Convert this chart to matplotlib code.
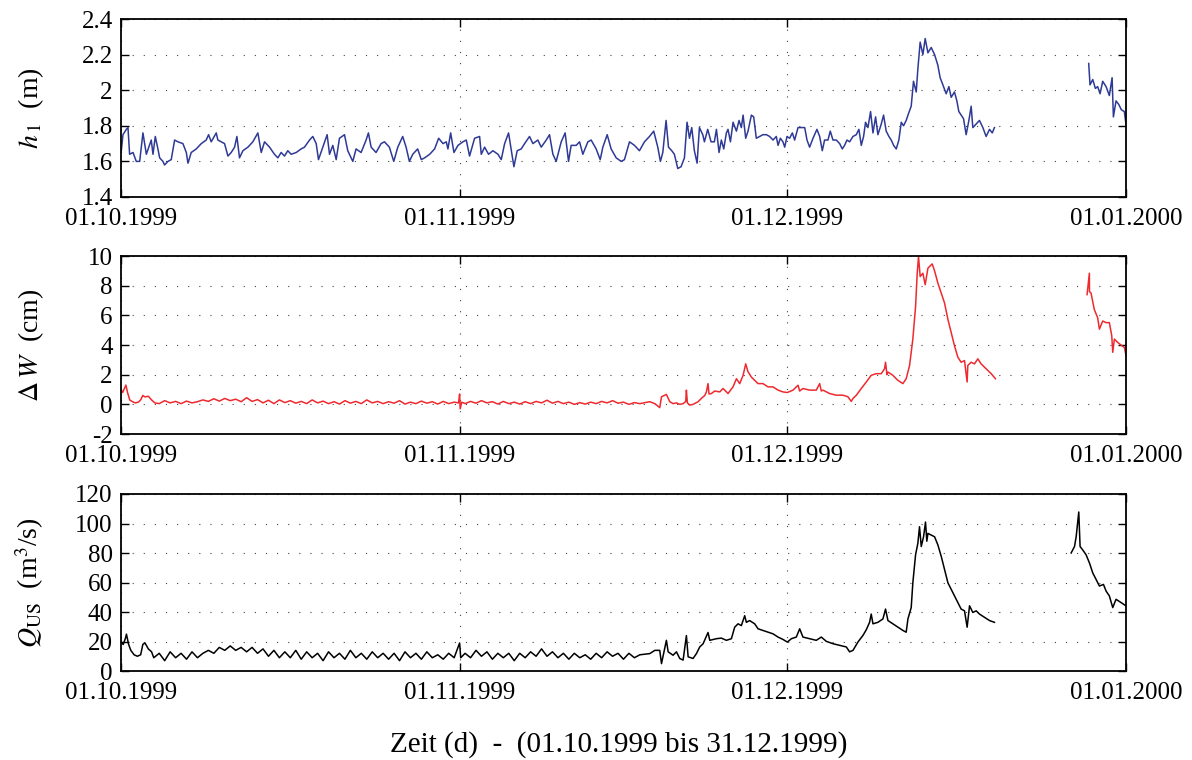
import datetime
import numpy as np
import matplotlib
matplotlib.use("Agg")
import matplotlib.pyplot as plt
import matplotlib.dates as mdates
from matplotlib.ticker import FormatStrFormatter

plt.rcParams['font.family'] = ['Liberation Serif', 'DejaVu Serif']
plt.rcParams['mathtext.fontset'] = 'stix'
plt.rcParams['axes.unicode_minus'] = False

# days since 01.10.1999
h1_days = [0.03, 0.18, 0.49, 0.64, 0.79, 1.10, 1.40, 1.71, 2.01, 2.32, 2.77, 2.93, 3.14, 3.38, 3.54,
           3.84, 3.99, 4.30, 4.60, 4.91, 5.21, 5.67, 5.98, 6.13, 6.43, 6.89, 7.35, 7.80, 8.02, 8.26,
           8.72, 8.87, 9.18, 9.48, 9.79, 10.09, 10.40, 10.61, 10.85, 11.16, 11.62, 12.07, 12.53, 12.84,
           13.14, 13.60, 14.05, 14.36, 14.66, 14.97, 15.27, 15.58, 16.04, 16.49, 16.80, 17.26, 17.56,
           17.87, 18.08, 18.48, 18.87, 19.09, 19.39, 19.70, 20.00, 20.46, 20.76, 21.22, 21.52, 21.98,
           22.44, 22.65, 22.90, 23.35, 23.81, 24.12, 24.57, 24.97, 25.34, 25.79, 26.10, 26.40, 26.71,
           27.16, 27.49, 27.80, 28.26, 28.71, 29.08, 29.48, 29.78, 29.93, 30.18, 30.48, 30.85, 31.30,
           31.61, 31.91, 32.37, 32.83, 32.98, 33.29, 33.65, 34.05, 34.51, 34.81, 35.12, 35.48, 35.79,
           35.97, 36.27, 36.64, 36.95, 37.40, 37.71, 38.16, 38.47, 38.93, 39.23, 39.54, 39.84, 40.30,
           40.66, 40.97, 41.21, 41.67, 41.98, 42.28, 42.74, 43.04, 43.50, 43.87, 44.11, 44.51, 44.87,
           45.33, 45.79, 46.09, 46.55, 47.01, 47.46, 47.92, 48.38, 48.77, 49.14, 49.38, 49.60, 49.90,
           50.12, 50.42, 50.66, 50.97, 51.27, 51.58, 51.82, 52.04, 52.25, 52.49, 52.74, 52.95, 53.26,
           53.41, 53.71, 54.02, 54.32, 54.51, 54.75, 54.96, 55.18, 55.42, 55.57, 55.79, 56.03, 56.34,
           56.58, 56.79, 56.95, 57.19, 57.40, 57.71, 57.92, 58.16, 58.47, 58.77, 59.08, 59.38, 59.69,
           59.99, 60.15, 60.36, 60.60, 60.76, 60.97, 61.21, 61.46, 61.67, 61.98, 62.28, 62.59, 62.80,
           63.04, 63.35, 63.71, 63.96, 64.20, 64.41, 64.72, 64.93, 65.18, 65.48, 65.79, 66.03, 66.24,
           66.46, 66.70, 67.01, 67.31, 67.55, 67.77, 67.98, 68.16, 68.38, 68.62, 68.84, 69.08, 69.29,
           69.60, 69.81, 70.05, 70.30, 70.51, 70.73, 70.97, 71.21, 71.43, 71.64, 71.88, 72.10, 72.34,
           72.55, 72.80, 72.95, 73.16, 73.41, 73.62, 73.87, 74.17, 74.48, 74.78, 74.99, 75.24, 75.54,
           75.79, 76.00, 76.30, 76.52, 76.70, 76.91, 77.13, 77.37, 77.62, 77.83, 77.98, 78.29, 78.59,
           78.90, 79.20, 79.51, 79.76, 79.96]
h1_vals = [1.66, 1.75, 1.78, 1.79, 1.64, 1.65, 1.60, 1.60, 1.76, 1.64, 1.72, 1.64, 1.74, 1.67, 1.62,
           1.60, 1.58, 1.60, 1.61, 1.72, 1.71, 1.70, 1.65, 1.59, 1.65, 1.67, 1.70, 1.72, 1.75, 1.71,
           1.76, 1.72, 1.71, 1.70, 1.63, 1.65, 1.68, 1.74, 1.62, 1.66, 1.68, 1.71, 1.76, 1.65,
           1.71, 1.68, 1.64, 1.62, 1.65, 1.63, 1.66, 1.64, 1.65, 1.67, 1.68, 1.72, 1.74,
           1.70, 1.61, 1.68, 1.75, 1.64, 1.69, 1.61, 1.73, 1.75, 1.66, 1.60, 1.67, 1.65,
           1.72, 1.76, 1.68, 1.65, 1.70, 1.71, 1.68, 1.60, 1.68, 1.74, 1.68, 1.60, 1.64,
           1.67, 1.61, 1.62, 1.64, 1.67, 1.73, 1.70, 1.71, 1.67, 1.76, 1.65, 1.69, 1.71,
           1.72, 1.63, 1.73, 1.74, 1.64, 1.68, 1.64, 1.66, 1.64, 1.61, 1.70, 1.76, 1.64,
           1.57, 1.66, 1.67, 1.70, 1.74, 1.70, 1.72, 1.68, 1.72, 1.75, 1.64, 1.60, 1.71,
           1.76, 1.60, 1.69, 1.69, 1.71, 1.64, 1.71, 1.72, 1.67, 1.61, 1.68, 1.75, 1.67,
           1.62, 1.60, 1.61, 1.71, 1.69, 1.66, 1.71, 1.74, 1.77, 1.68, 1.60, 1.65, 1.83,
           1.68, 1.66, 1.64, 1.56, 1.57, 1.62, 1.82, 1.73, 1.79, 1.66, 1.59, 1.79, 1.75,
           1.71, 1.78, 1.71, 1.71, 1.78, 1.65, 1.72, 1.67, 1.76, 1.78, 1.71, 1.82, 1.77,
           1.83, 1.79, 1.86, 1.73, 1.77, 1.86, 1.85, 1.73, 1.74, 1.75, 1.75, 1.74, 1.72,
           1.74, 1.69, 1.73, 1.71, 1.68, 1.74, 1.73, 1.76, 1.72, 1.79, 1.79, 1.79, 1.72,
           1.68, 1.73, 1.78, 1.74, 1.66, 1.72, 1.72, 1.77, 1.72, 1.72, 1.70, 1.67, 1.69,
           1.72, 1.71, 1.74, 1.75, 1.78, 1.69, 1.74, 1.82, 1.79, 1.88, 1.76, 1.85, 1.75,
           1.81, 1.86, 1.77, 1.74, 1.72, 1.69, 1.67, 1.72, 1.82, 1.80, 1.83, 1.87, 1.91,
           2.05, 1.99, 2.12, 2.27, 2.20, 2.29, 2.21, 2.24, 2.20, 2.14, 2.07, 2.03, 1.98,
           2.02, 1.96, 1.99, 1.94, 1.88, 1.86, 1.84, 1.75, 1.83, 1.91, 1.79, 1.81, 1.83,
           1.79, 1.74, 1.78, 1.76, 1.79]
h1_days2 = [88.59, 88.71, 88.96, 89.20, 89.41, 89.63, 89.87, 90.18, 90.48, 90.73, 90.85, 91.09,
            91.34, 91.58, 91.85, 92.0]
h1_vals2 = [2.15, 2.03, 2.06, 2.01, 2.02, 1.98, 2.05, 2.02, 1.97, 2.07, 1.85, 1.94,
            1.92, 1.89, 1.88, 1.81]

dw_days = [0.0, 0.15, 0.3, 0.45, 0.6, 0.8, 1.0, 1.3, 1.6, 1.8, 2.0, 2.2, 2.5, 2.8, 3.1,
           3.5, 4.0, 4.5, 5.0, 5.5, 6.0, 6.5, 7.0, 7.5, 8.0, 8.5, 9.0, 9.5, 10.0, 10.5, 11.0,
           11.5, 12.0, 12.5, 13.0, 13.5, 14.0, 14.5, 15.0, 15.5, 16.0, 16.5, 17.0, 17.5, 18.0,
           18.5, 19.0, 19.5, 20.0, 20.5, 21.0, 21.5, 22.0, 22.5, 23.0, 23.5, 24.0, 24.5, 25.0,
           25.5, 26.0, 26.5, 27.0, 27.5, 28.0, 28.5, 29.0, 29.5, 30.0, 30.5, 30.9, 31.0, 31.05,
           31.2, 31.5, 32.0, 32.5, 33.0, 33.5, 34.0, 34.5, 35.0, 35.5, 36.0, 36.5, 37.0, 37.5,
           38.0, 38.5, 39.0, 39.5, 40.0, 40.5, 41.0, 41.5, 42.0, 42.5, 43.0, 43.5, 44.0, 44.5,
           45.0, 45.5, 46.0, 46.5, 47.0, 47.5, 48.41, 48.87, 49.32, 49.48, 49.93, 50.24, 50.54,
           50.85, 51.15, 51.46, 51.70, 51.76, 51.85, 52.07, 52.37, 52.83, 53.13, 53.44, 53.59,
           53.74, 53.83, 54.05, 54.35, 54.81, 55.12, 55.57, 56.03, 56.34, 56.64, 56.95, 57.19,
           57.40, 57.71, 58.01, 58.32, 58.77, 59.23, 59.69, 60.15, 60.60, 61.0, 61.52, 61.98,
           62.13, 62.43, 63.04, 63.65, 63.96, 64.11, 64.26, 64.87, 65.48, 66.09, 66.55, 66.85,
           67.01, 67.32, 67.77, 68.23, 68.68, 69.14, 69.60, 69.90, 69.99, 70.12, 70.21, 70.66,
           71.12, 71.58, 71.88, 72.19, 72.49, 72.74, 72.89, 73.01, 73.16, 73.41, 73.62, 73.87,
           74.26, 74.48, 74.78, 75.09, 75.39, 75.70, 76.0, 76.30, 76.61, 76.91, 77.22, 77.46,
           77.52, 77.83, 78.13, 78.44, 78.74, 79.20, 79.66, 80.05]
dw_vals = [1.0, 0.8, 1.05, 1.3, 0.8, 0.3, 0.2, 0.1, 0.15, 0.3, 0.6, 0.5, 0.55, 0.3, 0.1,
           0.05, 0.25, 0.1, 0.2, 0.05, 0.22, 0.1, 0.18, 0.3, 0.2, 0.38, 0.22, 0.4, 0.25, 0.35, 0.18,
           0.45, 0.2, 0.32, 0.1, 0.28, 0.05, 0.3, 0.12, 0.25, 0.08, 0.2, 0.05, 0.3, 0.1,
           0.22, 0.05, 0.18, 0.02, 0.25, 0.08, 0.2, 0.05, 0.3, 0.1, 0.2, 0.05, 0.18, 0.08,
           0.25, 0.02, 0.15, 0.05, 0.22, 0.08, 0.18, 0.02, 0.2, 0.05, 0.15, 0.1, 0.7, -0.3,
           0.15, 0.05, 0.2, 0.08, 0.25, 0.1, 0.18, 0.02, 0.2, 0.05, 0.15, 0.02, 0.18, 0.05,
           0.2, 0.1, 0.28, 0.08, 0.2, 0.05, 0.15, 0.0, 0.12, 0.02, 0.15, 0.05, 0.2, 0.1,
           0.25, 0.08, 0.15, 0.0, 0.12, 0.05, 0.18, 0.05, -0.22, 0.51, 0.67, 0.18, 0.05,
           0.1, 0.0, 0.05, 0.2, 0.96, 0.1, -0.05, 0.0, 0.18, 0.4, 0.6, 0.84,
           1.4, 0.7, 0.73, 0.9, 0.84, 1.07, 0.73, 1.18, 1.73, 1.4, 1.96, 2.73,
           2.2, 1.84, 1.62, 1.4, 1.4, 1.18, 1.18, 0.96, 0.84, 0.8, 0.96, 1.29,
           0.9, 1.07, 0.96, 0.96, 1.4, 0.9, 0.96, 0.73, 0.62, 0.62, 0.51, 0.2,
           0.4, 0.62, 1.07, 1.51, 1.96, 2.07, 2.07, 2.4, 2.84, 2.0, 2.18, 1.96,
           1.62, 1.4, 1.73, 2.62, 4.4, 6.6, 8.84, 9.96, 8.62, 8.84, 8.07, 9.18,
           9.47, 9.0, 8.18, 7.51, 6.84, 5.73, 4.84, 3.96, 3.18, 2.84, 2.95, 1.51,
           2.62, 2.84, 2.73, 3.07, 2.73, 2.4, 2.07, 1.73]
dw_days2 = [88.44, 88.65, 88.66, 88.80, 89.1, 89.41, 89.57, 89.87, 90.18, 90.48, 90.70, 90.79,
            90.94, 91.24, 91.55, 91.85, 92.0]
dw_vals2 = [7.4, 8.84, 7.6, 7.51, 6.4, 5.84, 5.07, 5.62, 5.51, 5.51, 4.62, 3.51,
            4.4, 4.18, 4.0, 3.84, 3.33]

q_days = [0.0, 0.2, 0.4, 0.5, 0.7, 0.9, 1.2, 1.5, 1.8, 2.0, 2.2, 2.5, 2.8, 3.0,
          3.5, 4.0, 4.5, 5.0, 5.5, 6.0, 6.5, 7.0, 7.5, 8.0, 8.5, 9.0, 9.5, 10.0, 10.5, 11.0,
          11.5, 12.0, 12.5, 13.0, 13.5, 14.0, 14.5, 15.0, 15.5, 16.0, 16.5, 17.0, 17.5, 18.0,
          18.5, 19.0, 19.5, 20.0, 20.5, 21.0, 21.5, 22.0, 22.5, 23.0, 23.5, 24.0, 24.5, 25.0,
          25.5, 26.0, 26.5, 27.0, 27.5, 28.0, 28.5, 29.0, 29.5, 30.0, 30.5, 31.0, 31.1, 31.5,
          32.0, 32.5, 33.0, 33.5, 34.0, 34.5, 35.0, 35.5, 36.0, 36.5, 37.0, 37.5, 38.0, 38.5,
          39.0, 39.5, 40.0, 40.5, 41.0, 41.5, 42.0, 42.5, 43.0, 43.5, 44.0, 44.5, 45.0, 45.5,
          46.0, 46.5, 47.0, 47.5, 48.41, 48.87, 49.32, 49.48, 49.93, 50.09, 50.54, 50.85,
          51.15, 51.46, 51.76, 51.92, 52.37, 52.68, 52.98, 53.29, 53.74, 53.90, 54.51, 54.96,
          55.42, 55.88, 56.18, 56.49, 56.79, 57.10, 57.25, 57.55, 58.01, 58.32, 58.77, 59.23,
          59.69, 60.15, 60.60, 61.0, 61.37, 61.82, 62.13, 62.43, 63.04, 63.65, 64.11, 64.57,
          65.18, 65.79, 66.40, 66.70, 67.01, 67.46, 67.92, 68.23, 68.53, 68.68, 68.84, 69.29,
          69.75, 69.99, 70.21, 70.66, 71.12, 71.58, 71.88, 72.04, 72.34, 72.49, 72.74, 72.95,
          73.10, 73.26, 73.47, 73.65, 73.77, 73.87, 74.17, 74.48, 74.78, 75.09, 75.39, 75.70,
          76.0, 76.30, 76.61, 76.91, 77.22, 77.46, 77.68, 77.98, 78.29, 78.59, 79.05, 79.51,
          79.96]
q_vals = [20, 18, 22, 25, 18, 14, 11, 10, 11, 18, 19, 15, 13, 9,
          12, 7, 13, 9, 12, 8, 13, 9, 12, 14, 12, 16, 14, 17, 14, 16,
          13, 16, 12, 15, 10, 14, 9, 13, 9, 14, 8, 13, 9, 12,
          7, 13, 9, 12, 8, 14, 9, 12, 8, 13, 9, 12, 8, 12,
          7, 13, 9, 12, 8, 13, 9, 11, 8, 12, 9, 19, 9, 12,
          9, 14, 10, 13, 8, 12, 9, 12, 7, 12, 9, 13, 10, 15,
          10, 13, 9, 12, 8, 12, 9, 11, 8, 12, 9, 13, 10, 12,
          8, 12, 9, 11, 11.8, 14, 14, 5, 20.8, 13, 10.7, 13,
          8.5, 7.4, 24, 9.6, 8.5, 11.8, 16.3, 18.5, 26.1, 20.8, 21.9, 22.3,
          20.8, 21.9, 29.7, 32, 30.8, 37.5, 33, 34.2, 32, 28.6, 27.5, 26.3,
          25.2, 23, 21.4, 19.6, 21.9, 23, 28.6, 23, 21.9, 20.8, 23, 20.1,
          18.5, 17.4, 16.3, 13, 14, 19.6, 24.1, 28, 33, 38.6, 32, 33,
          35.3, 42, 34.2, 32, 29.7, 27.5, 26.3, 35.3, 43, 59.8, 78.8, 86.6,
          97.8, 84.4, 91, 101, 88, 93.3, 92.2, 91, 85.5, 77.7, 68.8, 59.8,
          55.4, 50.9, 46.4, 42, 40.8, 29.7, 44.2, 39.7, 40.8, 38.6, 36.4, 34.2,
          33]
q_days2 = [86.98, 87.29, 87.44, 87.68, 87.80, 88.05, 88.35, 88.66, 88.96, 89.27, 89.57, 89.94,
           90.18, 90.48, 90.79, 91.09, 91.55, 92.0]
q_vals2 = [80, 84.4, 91, 107.8, 84.4, 82, 78.8, 73.2, 66.5, 62, 57.6, 58.7,
           54.2, 50.9, 43, 48.6, 46.4, 44.2]

start = mdates.date2num(datetime.datetime(1999, 10, 1))

fig = plt.figure(figsize=(11.92, 7.6), dpi=100)
left, width = 0.1015, 0.8431
ax1 = fig.add_axes([left, 0.7408, width, 0.2342])
ax2 = fig.add_axes([left, 0.4289, width, 0.2342])
ax3 = fig.add_axes([left, 0.1171, width, 0.2329])

series = [
    (ax1, h1_days, h1_vals, h1_days2, h1_vals2, '#2E3A96', (1.4, 2.4), np.arange(1.4, 2.41, 0.2),
     r'$h_{\,1}$  (m)'),
    (ax2, dw_days, dw_vals, dw_days2, dw_vals2, '#EE2A2F', (-2, 10), np.arange(-2, 11, 2),
     r'$\Delta\,W$  (cm)'),
    (ax3, q_days, q_vals, q_days2, q_vals2, 'black', (0, 120), np.arange(0, 121, 20),
     r'$Q_{\mathrm{US}}$  (m$^3$/s)'),
]

for ax, d1, v1, d2, v2, col, ylim, yt, lab in series:
    ax.plot(start + np.array(d1), v1, color=col, lw=1.1)
    ax.plot(start + np.array(d2), v2, color=col, lw=1.1)
    ax.set_xlim(start, start + 92)
    ax.set_ylim(*ylim)
    ax.set_yticks(yt)
    ax.yaxis.set_major_formatter(FormatStrFormatter('%g'))
    ax.xaxis.set_major_locator(mdates.MonthLocator())
    ax.xaxis.set_major_formatter(mdates.DateFormatter('%d.%m.%Y'))
    ax.grid(True, color='#444444', lw=0.8, linestyle=(0, (1, 9)))
    ax.tick_params(direction='in', top=True, right=True, length=6, width=1.0,
                   labelsize=18)
    ax.tick_params(axis='x', pad=8)
    ax.tick_params(axis='y', pad=6)
    for s in ax.spines.values():
        s.set_linewidth(1.3)
    ax.set_ylabel(lab, fontsize=20)
    ax.yaxis.set_label_coords(-0.075, 0.5)

fig.text(0.519, 1 - 745 / 760, 'Zeit (d)  -  (01.10.1999 bis 31.12.1999)',
         ha='center', va='center', fontsize=21)

fig.savefig('out.png', dpi=100)
